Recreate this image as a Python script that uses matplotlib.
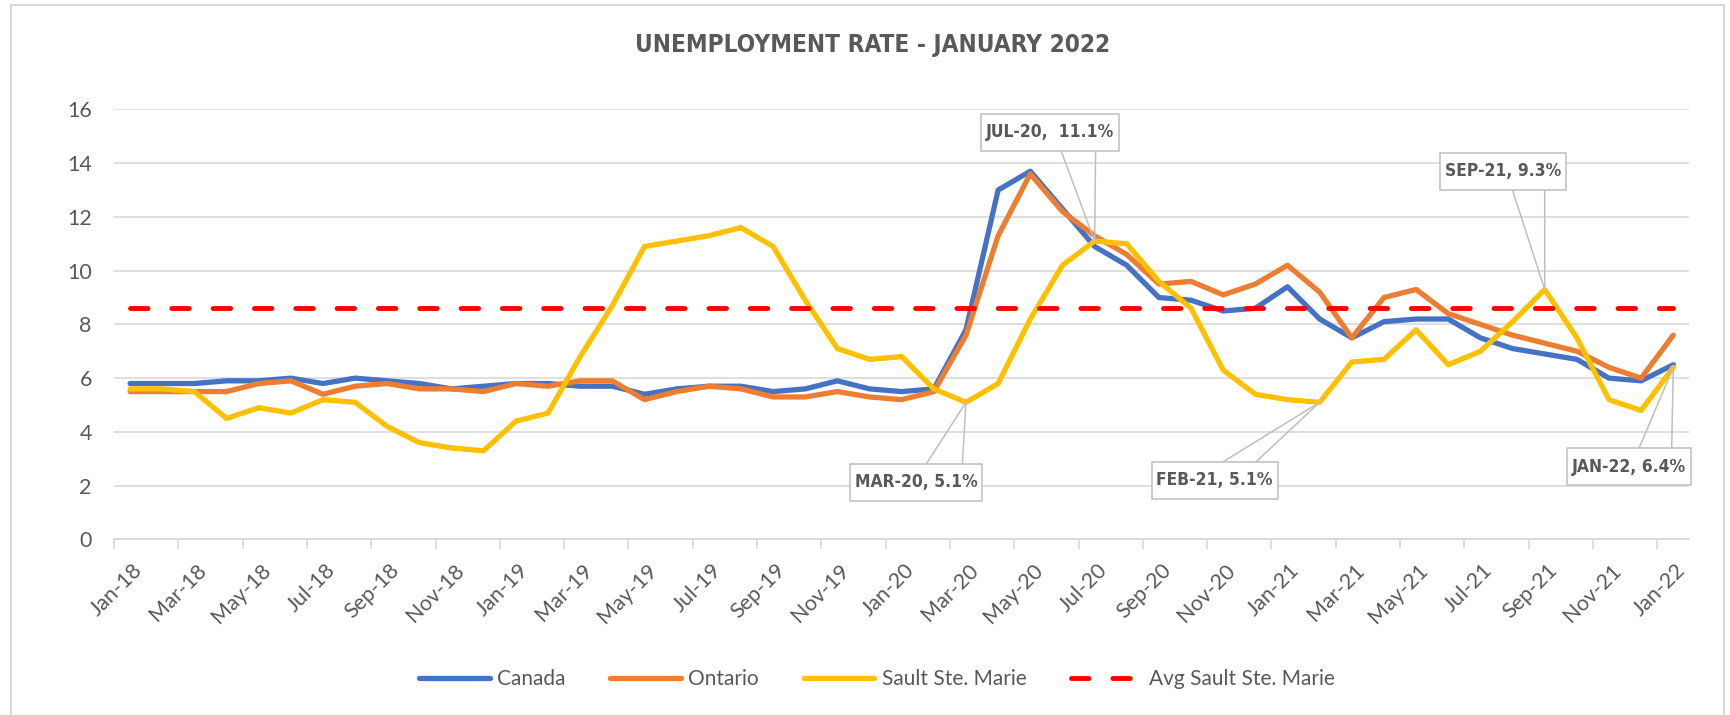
import matplotlib
matplotlib.use('Agg')
import matplotlib.pyplot as plt
import matplotlib.transforms as mtransforms
from matplotlib import font_manager as fm
from matplotlib.patches import Rectangle
from matplotlib.path import Path
import numpy as np
import pandas as pd

plt.rcParams['font.family'] = ['Lato', 'DejaVu Sans']

# monthly categories Jan-18 .. Jan-22
months = list(pd.date_range('2018-01-01', periods=49, freq='MS').strftime('%b-%y'))

canada = [5.8, 5.8, 5.8, 5.9, 5.9, 6.0, 5.8, 6.0, 5.9, 5.8, 5.6, 5.7,
          5.8, 5.8, 5.7, 5.7, 5.4, 5.6, 5.7, 5.7, 5.5, 5.6, 5.9, 5.6,
          5.5, 5.6, 7.8, 13.0, 13.7, 12.3, 10.9, 10.2, 9.0, 8.9, 8.5, 8.6,
          9.4, 8.2, 7.5, 8.1, 8.2, 8.2, 7.5, 7.1, 6.9, 6.7, 6.0, 5.9,
          6.5]
ontario = [5.5, 5.5, 5.5, 5.5, 5.8, 5.9, 5.4, 5.7, 5.8, 5.6, 5.6, 5.5,
           5.8, 5.7, 5.9, 5.9, 5.2, 5.5, 5.7, 5.6, 5.3, 5.3, 5.5, 5.3,
           5.2, 5.5, 7.6, 11.3, 13.6, 12.2, 11.3, 10.6, 9.5, 9.6, 9.1, 9.5,
           10.2, 9.2, 7.5, 9.0, 9.3, 8.4, 8.0, 7.6, 7.3, 7.0, 6.4, 6.0,
           7.6]
sault = [5.6, 5.6, 5.5, 4.5, 4.9, 4.7, 5.2, 5.1, 4.2, 3.6, 3.4, 3.3,
         4.4, 4.7, 6.8, 8.7, 10.9, 11.1, 11.3, 11.6, 10.9, 8.9, 7.1, 6.7,
         6.8, 5.6, 5.1, 5.8, 8.2, 10.2, 11.1, 11.0, 9.6, 8.6, 6.3, 5.4,
         5.2, 5.1, 6.6, 6.7, 7.8, 6.5, 7.0, 8.1, 9.3, 7.5, 5.2, 4.8,
         6.4]
avg_sault = [8.6] * len(months)

# data callouts on the Sault Ste. Marie series
callout_idx = [26, 30, 37, 44, 48]
callout_text = ['MAR-20, 5.1%', 'JUL-20,  11.1%', 'FEB-21, 5.1%', 'SEP-21, 9.3%', 'JAN-22, 6.4%']
# box centre offset and the two wedge base points, in pixels from the point
callout_pos = [
    ((-50, -80), (-38, -59), (-3.5, -59)),
    ((-45, 109), (-33, 89), (1, 89)),
    ((-105, -78), (-93.6, -57.6), (-61.6, -57.6)),
    ((-41.6, 118), (-31.6, 97.4), (0, 97.4)),
    ((-44.4, -99.4), (-33.5, -79), (-1.6, -79)),
]

grey_txt = '#595959'
grid_c = '#D9D9D9'

# look for a condensed bold face for the title / callouts
cond = [f.fname for f in fm.fontManager.ttflist
        if any(k in f.fname for k in ('Condensed', 'Narrow')) and 'Bold' in f.fname
        and 'Oblique' not in f.fname and 'Italic' not in f.fname]
if cond:
    cond.sort(key=lambda p: (0 if 'DejaVu' in p else 1, p))
    head_font = fm.FontProperties(fname=cond[0])
    title_size, call_size = 17.5, 12.5
else:
    head_font = fm.FontProperties(family='DejaVu Sans', weight='bold')
    title_size, call_size = 15, 11


def callout_box(x0, y0, width, height, mutation_size):
    # rectangle with less padding at the sides than above/below
    px, py = 0.28 * mutation_size, 0.55 * mutation_size
    x1, y1 = x0 + width + px, y0 + height + py
    x0, y0 = x0 - px, y0 - py
    return Path([(x0, y0), (x1, y0), (x1, y1), (x0, y1), (x0, y0)], closed=True)


fig = plt.figure(figsize=(17.31, 7.15), dpi=100)
ax = fig.add_axes([0.06586, 0.2456, 0.9101, 0.6014])

x = np.arange(len(months))
ax.plot(x, canada, color='#4472C4', lw=3.8, solid_joinstyle='round', solid_capstyle='round', label='Canada')
ax.plot(x, ontario, color='#ED7D31', lw=3.8, solid_joinstyle='round', solid_capstyle='round', label='Ontario')
ax.plot(x, sault, color='#FFC000', lw=3.8, solid_joinstyle='round', solid_capstyle='round', label='Sault Ste. Marie')
ax.plot(x, avg_sault, color='#FF0000', lw=3.5, dashes=(3.6, 4.9), dash_capstyle='round',
        label='Avg Sault Ste. Marie')

ax.set_xlim(-0.5, len(months) - 0.5)
ax.set_ylim(0, 16)
ax.set_yticks(range(0, 17, 2))
ax.yaxis.grid(True, color=grid_c, lw=1.2)
ax.set_axisbelow(True)
for s in ['top', 'right', 'left']:
    ax.spines[s].set_visible(False)
ax.spines['bottom'].set_color(grid_c)
ax.spines['bottom'].set_linewidth(1.3)

ax.set_xticks(x[::2])
ax.set_xticklabels(months[::2], rotation=45, ha='right', va='top', rotation_mode='anchor')
ax.set_xticks(np.arange(-0.5, len(months) - 1, 2), minor=True)
ax.tick_params(axis='x', which='major', length=0, pad=15, labelsize=15.5, labelcolor=grey_txt)
ax.tick_params(axis='x', which='minor', length=7, width=1.2, color=grid_c)
ax.tick_params(axis='y', length=0, pad=16, labelsize=15.5, labelcolor=grey_txt)
shift = mtransforms.ScaledTranslation(2 / 100, 0, fig.dpi_scale_trans)
for lbl in ax.get_xticklabels():
    lbl.set_transform(lbl.get_transform() + shift)

for i, txt, (box, b1, b2) in zip(callout_idx, callout_text, callout_pos):
    for bx, by in (b1, b2):
        # push the base a little into the box so it meets the border
        k = 1 + 8 / abs(by)
        ax.annotate('', xy=(i, sault[i]), xytext=(bx * k, by * k), textcoords='offset pixels',
                    arrowprops=dict(arrowstyle='-', color='#BFBFBF', lw=1.1, shrinkA=0, shrinkB=0),
                    zorder=6)
    ax.annotate(txt, xy=(i, sault[i]), xytext=box, textcoords='offset pixels',
                ha='center', va='center', fontproperties=head_font, fontsize=call_size, color=grey_txt,
                bbox=dict(boxstyle=callout_box, fc='white', ec='#BFBFBF', lw=1.1),
                zorder=7)

fig.text(873 / 1731, 1 - 45 / 715, 'UNEMPLOYMENT RATE - JANUARY 2022', ha='center', va='center',
         fontproperties=head_font, fontsize=title_size, color=grey_txt)

handles, labels = ax.get_legend_handles_labels()
fig.legend(handles, labels, loc='center', bbox_to_anchor=(877 / 1731, 1 - 679 / 715), ncol=4,
           frameon=False, handlelength=3.4, handletextpad=0.35, columnspacing=2.15,
           fontsize=15, labelcolor=grey_txt)

fig.add_artist(Rectangle((11 / 1731, -0.05), (1724 - 11) / 1731, 1 - 4.7 / 715 + 0.05,
                         transform=fig.transFigure, fill=False, ec=grid_c, lw=1.5))

fig.savefig('out.png', dpi=100)
